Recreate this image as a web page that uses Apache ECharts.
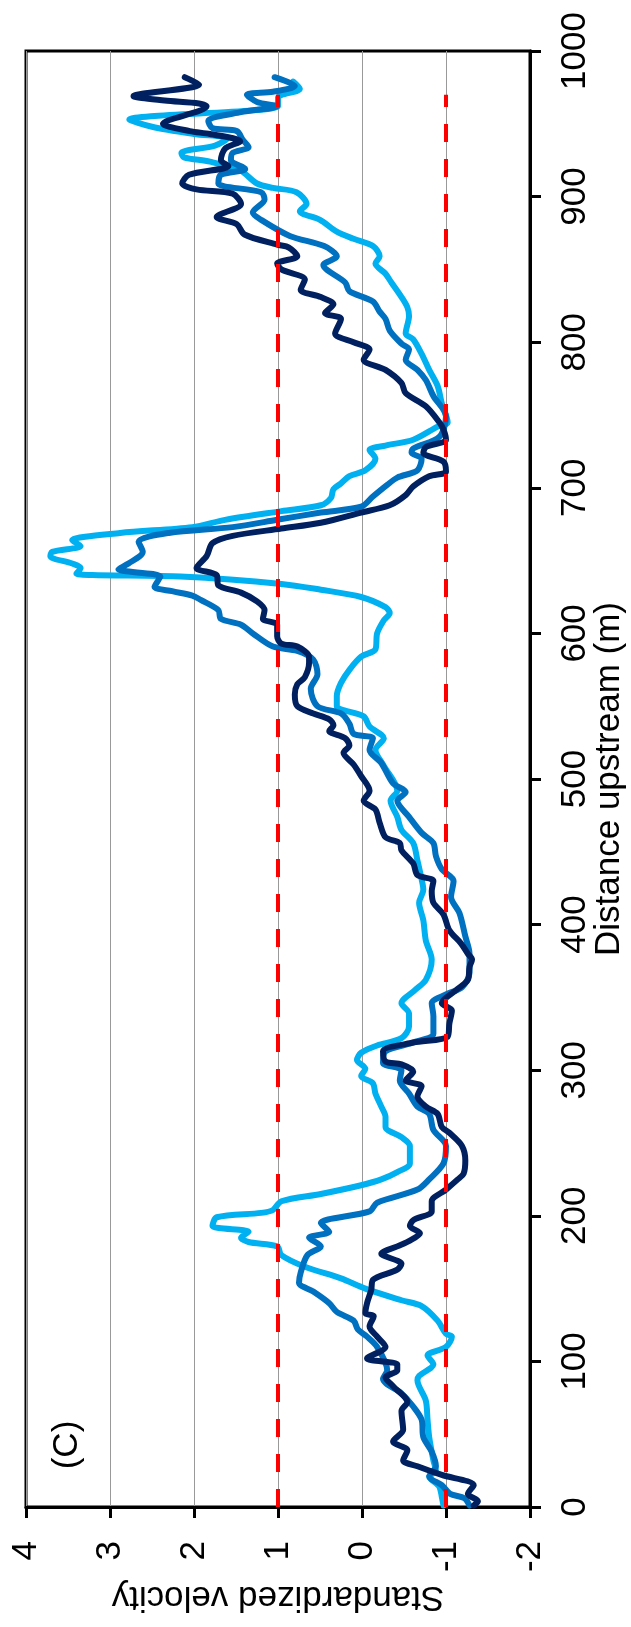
<!DOCTYPE html>
<html>
<head>
<meta charset="utf-8">
<script src="https://cdn.jsdelivr.net/npm/echarts@6/dist/echarts.min.js"></script>
<style>
  html, body { margin: 0; padding: 0; background: #fff; }
  #chart { width: 631px; height: 1627px; }
</style>
</head>
<body>
<div id="chart"></div>
<script>
// distance upstream (m) and standardized velocity, one pair of arrays per survey line
const navyDist = [1, 4, 9, 15, 22, 28, 32, 39, 45, 53, 66, 72, 83, 89, 94, 98, 102, 110, 117, 124, 131, 133, 140, 149, 156, 163, 167, 174, 179, 183, 188, 193, 197, 203, 210, 218, 225, 229, 238, 248, 257, 261, 270, 275, 282, 289, 293, 299, 304, 306, 313, 319, 323, 332, 341, 346, 355, 362, 371, 376, 380, 387, 396, 407, 415, 423, 430, 434, 442, 451, 456, 460, 470, 479, 485, 492, 502, 510, 518, 523, 528, 533, 537, 541, 545, 550, 558, 565, 570, 580, 584, 591, 593, 598, 606, 610, 616, 622, 628, 633, 640, 645, 653, 662, 667, 672, 676, 683, 688, 695, 701, 708, 711, 718, 724, 728, 733, 740, 745, 756, 765, 772, 781, 788, 795, 800, 806, 816, 820, 826, 831, 836, 843, 850, 854, 859, 865, 867, 874, 881, 886, 895, 902, 905, 909, 915, 921, 925, 933, 938, 943, 945, 950, 962, 964, 966, 969, 977, 982]
const navyVel = [-1.33, -1.38, -1.26, -1.33, -0.95, -0.66, -0.49, -0.54, -0.37, -0.49, -0.47, -0.54, -0.37, -0.28, -0.42, -0.42, -0.06, -0.28, -0.18, -0.09, -0.14, -0.04, -0.06, -0.11, -0.13, -0.42, -0.47, -0.23, -0.42, -0.57, -0.69, -0.57, -0.61, -0.83, -0.83, -1.0, -1.14, -1.21, -1.23, -1.19, -1.04, -0.95, -0.9, -0.76, -0.66, -0.71, -0.52, -0.61, -0.47, -0.28, -0.25, -0.61, -1.02, -1.04, -1.07, -0.95, -1.12, -1.26, -1.28, -1.31, -1.26, -1.18, -1.04, -0.97, -0.85, -0.83, -0.85, -0.66, -0.61, -0.47, -0.45, -0.28, -0.21, -0.16, -0.02, -0.09, 0.01, 0.1, 0.22, 0.15, 0.2, 0.39, 0.34, 0.39, 0.58, 0.77, 0.8, 0.77, 0.68, 0.63, 0.63, 0.77, 0.96, 1.01, 1.01, 1.18, 1.16, 1.25, 1.44, 1.71, 1.73, 1.97, 1.85, 1.78, 1.54, 0.96, 0.49, 0.01, -0.33, -0.52, -0.61, -0.8, -1.0, -0.97, -0.73, -0.76, -1.0, -0.97, -0.92, -0.76, -0.52, -0.47, -0.28, -0.02, -0.09, 0.1, 0.32, 0.25, 0.44, 0.34, 0.49, 0.73, 0.68, 0.96, 1.01, 0.77, 0.87, 1.01, 1.4, 1.49, 1.73, 1.44, 1.54, 1.97, 2.14, 2.06, 1.59, 1.68, 1.63, 1.45, 1.81, 2.05, 2.37, 1.85, 1.94, 2.35, 2.72, 1.94, 2.11]

const blueDist = [1, 6, 9, 15, 21, 28, 38, 48, 60, 69, 78, 88, 94, 110, 117, 122, 128, 134, 140, 148, 154, 161, 173, 179, 185, 189, 195, 203, 209, 218, 225, 236, 248, 259, 270, 275, 284, 293, 300, 305, 313, 319, 325, 337, 346, 352, 357, 367, 380, 392, 408, 419, 430, 438, 447, 456, 463, 474, 485, 491, 497, 511, 520, 528, 531, 538, 545, 550, 562, 572, 582, 588, 591, 600, 606, 610, 616, 623, 626, 629, 632, 639, 644, 648, 656, 663, 669, 673, 678, 683, 687, 694, 702, 707, 712, 720, 724, 727, 735, 749, 763, 774, 781, 788, 795, 799, 808, 816, 821, 828, 835, 841, 853, 859, 866, 873, 884, 889, 898, 903, 909, 915, 919, 925, 930, 934, 939, 945, 947, 952, 958, 962, 965, 970, 972, 976, 982]
const blueVel = [-1.28, -1.22, -1.05, -0.95, -0.8, -0.88, -0.83, -0.73, -0.71, -0.61, -0.47, -0.25, -0.3, -0.18, -0.06, 0.05, 0.1, 0.3, 0.39, 0.58, 0.75, 0.73, 0.65, 0.49, 0.63, 0.39, 0.49, -0.09, -0.18, -0.66, -0.8, -0.97, -1.0, -0.85, -0.8, -0.66, -0.56, -0.45, -0.47, -0.25, -0.28, -0.61, -0.85, -0.85, -0.83, -1.0, -1.19, -1.28, -1.28, -1.23, -1.16, -1.06, -1.09, -0.95, -0.88, -0.85, -0.71, -0.56, -0.42, -0.52, -0.37, -0.23, -0.09, -0.13, 0.1, 0.15, 0.25, 0.53, 0.61, 0.53, 0.58, 0.77, 1.06, 1.3, 1.44, 1.68, 1.71, 1.92, 2.02, 2.26, 2.47, 2.4, 2.9, 2.78, 2.61, 2.66, 2.3, 1.54, 1.01, 0.49, 0.01, -0.13, -0.3, -0.42, -0.66, -0.71, -0.59, -0.61, -0.92, -1.0, -0.85, -0.76, -0.66, -0.52, -0.56, -0.47, -0.33, -0.28, -0.21, -0.13, 0.15, 0.2, 0.46, 0.3, 0.45, 0.86, 1.2, 1.3, 1.16, 1.2, 1.71, 1.68, 1.39, 1.56, 1.54, 1.35, 1.42, 1.49, 1.78, 1.83, 1.44, 1.01, 1.25, 1.37, 1.06, 0.8, 1.04]

const skyDist = [1, 7, 14, 21, 25, 32, 48, 60, 73, 87, 90, 98, 104, 110, 117, 119, 128, 138, 142, 150, 157, 165, 173, 179, 182, 185, 189, 193, 199, 202, 204, 210, 215, 221, 225, 230, 236, 248, 254, 261, 268, 275, 284, 291, 296, 301, 307, 312, 317, 322, 330, 339, 346, 355, 362, 376, 389, 403, 415, 424, 431, 444, 456, 465, 474, 485, 492, 509, 520, 528, 536, 543, 550, 557, 566, 575, 584, 589, 600, 609, 614, 618, 625, 630, 634, 639, 641, 645, 648, 653, 656, 660, 664, 669, 673, 678, 684, 688, 693, 699, 703, 708, 712, 720, 726, 729, 733, 742, 745, 758, 770, 781, 792, 802, 806, 818, 824, 831, 841, 847, 854, 859, 866, 871, 876, 884, 890, 895, 903, 906, 909, 918, 924, 927, 930, 935, 940, 943, 948, 953, 962, 968, 974, 979]
const skyVel = [-0.97, -0.95, -0.92, -0.8, -0.88, -0.85, -0.8, -0.78, -0.76, -0.66, -0.68, -0.85, -0.78, -1.0, -1.07, -1.0, -0.9, -0.71, -0.47, -0.04, 0.25, 0.68, 0.96, 1.01, 1.35, 1.44, 1.35, 1.78, 1.73, 1.2, 1.06, 0.96, 0.49, 0.01, -0.23, -0.42, -0.57, -0.57, -0.47, -0.28, -0.28, -0.23, -0.16, -0.13, 0.01, -0.04, 0.06, 0.01, -0.18, -0.47, -0.56, -0.56, -0.47, -0.63, -0.76, -0.83, -0.76, -0.73, -0.68, -0.73, -0.71, -0.66, -0.61, -0.47, -0.42, -0.34, -0.42, -0.26, -0.16, -0.26, -0.09, -0.02, 0.3, 0.3, 0.25, 0.15, 0.01, -0.16, -0.18, -0.26, -0.33, -0.28, 0.01, 0.49, 0.96, 2.16, 3.4, 3.35, 3.45, 3.71, 3.69, 3.35, 3.45, 2.88, 2.02, 1.63, 0.96, 0.49, 0.37, 0.34, 0.25, 0.15, -0.04, -0.16, -0.09, -0.28, -0.61, -0.9, -1.02, -0.95, -0.9, -0.8, -0.71, -0.61, -0.52, -0.56, -0.54, -0.47, -0.35, -0.28, -0.16, -0.21, -0.13, 0.1, 0.3, 0.5, 0.74, 0.66, 0.78, 1.06, 1.25, 1.45, 1.81, 2.12, 2.15, 1.75, 1.6, 2.0, 2.5, 2.77, 1.0, 1.0, 0.74, 0.82]

// threshold lines at +/-1 and how far upstream they run
const thresholds = [1, -1]
const thresholdEnd = 970

const font = 'Liberation Sans, Arial, Helvetica, sans-serif'
const toPairs = (dist, vel) => dist.map((d, i) => [vel[i], d])

const chart = echarts.init(document.getElementById('chart'))

const surveyLine = (name, color, dist, vel) => ({
  name,
  type: 'line',
  data: toPairs(dist, vel),
  smooth: 0.3,
  showSymbol: false,
  symbol: 'none',
  lineStyle: { color, width: 6, join: 'round', cap: 'round' },
  z: 2
})

const option = {
  animation: false,
  textStyle: { fontFamily: font },
  grid: {
    left: 26,
    right: 101,
    top: 51,
    bottom: 120,
    show: true,
    borderColor: '#000',
    borderWidth: 3,
    containLabel: false,
    outerBoundsMode: 'none'
  },
  xAxis: {
    type: 'value',
    min: -2,
    max: 4,
    interval: 1,
    inverse: true,
    position: 'bottom',
    name: 'Standardized velocity',
    nameLocation: 'middle',
    nameRotate: 180,
    nameGap: 72,
    nameMoveOverlap: false,
    nameTextStyle: { fontSize: 35, color: '#000', fontFamily: font },
    axisLine: { onZero: false, lineStyle: { color: '#000', width: 3 } },
    axisTick: { length: 11, lineStyle: { color: '#000', width: 3 } },
    axisLabel: { rotate: 90, margin: 34, fontSize: 35, color: '#000', fontFamily: font },
    splitLine: { lineStyle: { color: '#999', width: 1 } }
  },
  yAxis: {
    type: 'value',
    min: 0,
    max: 1000,
    interval: 100,
    position: 'right',
    name: 'Distance upstream (m)',
    nameLocation: 'middle',
    nameRotate: 90,
    nameGap: 62,
    nameMoveOverlap: false,
    nameTextStyle: { fontSize: 35, color: '#000', fontFamily: font },
    axisLine: { onZero: false, lineStyle: { color: '#000', width: 3 } },
    axisTick: { length: 11, lineStyle: { color: '#000', width: 3 } },
    axisLabel: {
      rotate: 90,
      margin: 28,
      fontSize: 35,
      color: '#000',
      fontFamily: font,
      formatter: v => String(v)
    },
    splitLine: { show: false }
  },
  graphic: [
    {
      type: 'text',
      x: 67,
      y: 1445,
      rotation: Math.PI / 2,
      style: {
        text: '(C)',
        font: '35px ' + font,
        fill: '#000',
        textAlign: 'center',
        textVerticalAlign: 'middle'
      }
    }
  ],
  series: [
    surveyLine('light', '#00B0F0', skyDist, skyVel),
    surveyLine('medium', '#0070C0', blueDist, blueVel),
    surveyLine('dark', '#002060', navyDist, navyVel),
    ...thresholds.map(t => ({
      type: 'line',
      data: [[t, 0], [t, thresholdEnd]],
      symbol: 'none',
      lineStyle: { color: '#ff0000', width: 4, type: [18, 17] },
      z: 5
    }))
  ]
}

chart.setOption(option)
</script>
</body>
</html>
